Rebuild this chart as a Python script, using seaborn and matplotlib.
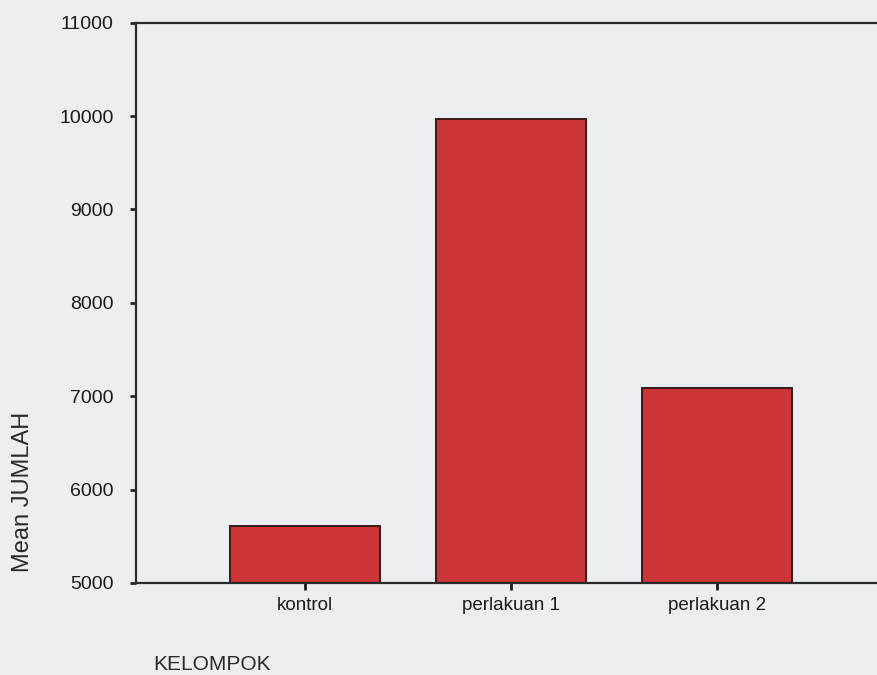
import matplotlib
matplotlib.use("Agg")
import matplotlib.pyplot as plt
import seaborn as sns
import pandas as pd

# data
kelompok = ["kontrol", "perlakuan 1", "perlakuan 2"]
mean_jumlah = [5610, 9970, 7090]
y_ticks = [5000, 6000, 7000, 8000, 9000, 10000, 11000]

df = pd.DataFrame({"KELOMPOK": kelompok, "JUMLAH": mean_jumlah})

sns.set_theme(style="white")
plt.rcParams['font.family'] = ['Liberation Sans', 'DejaVu Sans']

bg = "#edeef2"
fig = plt.figure(figsize=(8.78, 6.75), dpi=100, facecolor=bg)
ax = fig.add_axes([0.155, 0.1363, 0.854, 0.830])
ax.set_facecolor(bg)

sns.barplot(data=df, x="KELOMPOK", y="JUMLAH", color="#cc3535", width=0.73,
            edgecolor="#3a1a1a", linewidth=1.4, saturation=1, ax=ax)

ax.set_ylim(5000, 11000)
ax.set_xlim(-0.82, 2.82)
ax.set_yticks(y_ticks)
ax.set_yticklabels([str(v) for v in y_ticks], fontsize=14, color="#1a1a1a")
ax.tick_params(axis="x", labelsize=13.5, colors="#1a1a1a", length=5, width=2,
               direction="out", bottom=True, pad=5)
ax.tick_params(axis="y", length=4, width=2, direction="out", left=True, pad=12)
ax.set_xlabel("")
ax.set_ylabel("")

for side in ["left", "bottom", "top", "right"]:
    ax.spines[side].set_color("#2a2a2a")
    ax.spines[side].set_linewidth(1.6)

fig.text(23 / 878, 1 - 492 / 675, "Mean JUMLAH", rotation=90, ha="center", va="center",
         fontsize=17, color="#2a2a2a")
fig.text(153 / 878, 1 - 664 / 675, "KELOMPOK", ha="left", va="center",
         fontsize=15, color="#2a2a2a")

fig.savefig("out.png", dpi=100, facecolor=bg)
